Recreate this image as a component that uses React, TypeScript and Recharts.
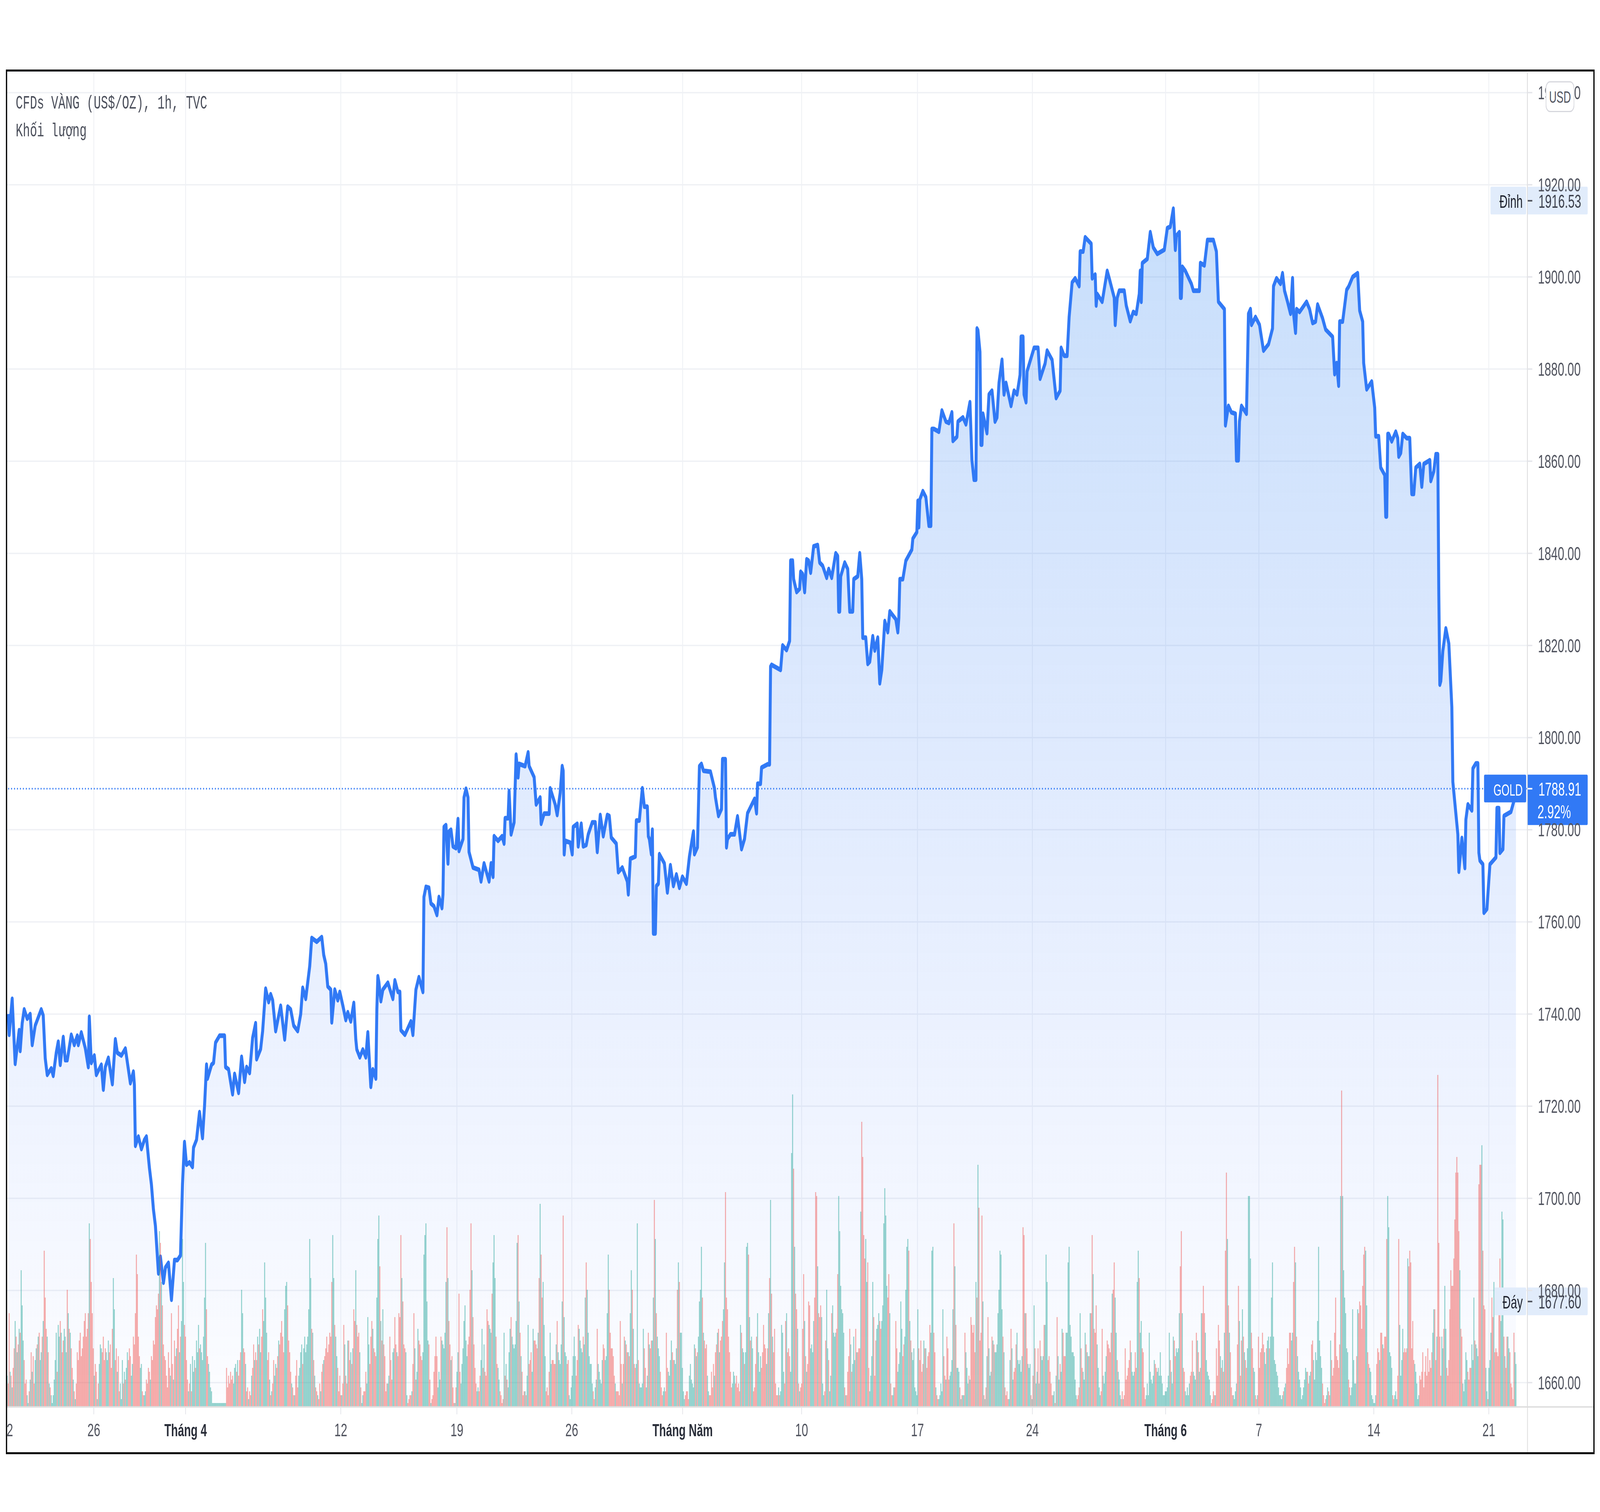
import React from "react";
import {
  ComposedChart, Area, Bar, Cell, XAxis, YAxis, CartesianGrid, ReferenceLine,
} from "recharts";

// Tick positions are bar indexes (one bar per trading hour)
const dateTicks = [-0.5, 86.5, 178.1, 333, 448.9, 563.6, 674.2, 793, 908.6, 1023.3, 1156.3, 1249.4, 1364.1, 1478.9];
const dateLabels = ["22", "26", "Tháng 4", "12", "19", "26", "Tháng Năm", "10", "17", "24", "Tháng 6", "7", "14", "21"];
const monthLabels = ["Tháng 4", "Tháng Năm", "Tháng 6"];
const priceTicks = [1660, 1680, 1700, 1720, 1740, 1760, 1780, 1800, 1820, 1840, 1860, 1880, 1900, 1920, 1940];

const lastPrice = 1788.91;
const lastChange = "2.92%";
const highPrice = 1916.53;
const lowPrice = 1677.6;

// [bar index, close]
const priceA: [number, number][] = [
[1,1740],[2,1735.5],[5,1743.3],[8,1729.2],[12,1736.5],[13,1732],[15,1738],[17,1741],[20,1739],[23,1740],[25,1733.3],[28,1737.5],[34,1741],[36,1739.7],[38,1730.4],[40,1726.8],[44,1728.2],[46,1726.6],[49,1731.6],[51,1734],[53,1729],[56,1735],[58,1730],[60,1730],[64,1735.5],[67,1733.3],[70,1735.3],[71,1733.3],[74,1736],[78,1732.6],[81,1728.5],[82,1739.4],[84,1729.4],[87,1731],[89,1726.8],[94,1729],[96,1723.6],[98,1728.5],[101,1730.5],[105,1724.8],[108,1734.5],[110,1731.6],[114,1731],[118,1732.5],[121,1728],[123,1725],[126,1727.5],[127,1724.6],[128,1711.4],[131,1713.4],[134,1710.7],[137,1712.7],[139,1713.4],[142,1706.6],[144,1703],[146,1697.6],[148,1694],[151,1683.7],[153,1687.3],[156,1681.7],[158,1685],[161,1686],[164,1678],[167,1686.6],[170,1686.6],[173,1687.6],[175,1703],[177,1712.2],[179,1707.3],[182,1707.8],[185,1706.8],[186,1711],[189,1712.7],[192,1718.7],[195,1713.1],[197,1720],[199,1729],[200,1726],[204,1729],[206,1729.4],[208,1733.8],[212,1735.3],[217,1735.3],[218,1728.5],[221,1728],[225,1722.6],[227,1727],[231,1722.9],[234,1730.7],[237,1725.3],[239,1728.5],[242,1727.2],[245,1734.8],[248,1738],[249,1730.2],[253,1732.4],[255,1736.3],[258,1745.5],[261,1742.6],[263,1744.3],[265,1743],[268,1736.3],[273,1741.8],[277,1734.5],[280,1741.6],[283,1741],[286,1737.5],[290,1736.3],[293,1740],[295,1745.7],[298,1743.3],[302,1750.4],[304,1756.5],[309,1755.7],[314,1756.7],[316,1752.8],[318,1750.9],[320,1746],[323,1745.3],[324,1738.2],[327,1745.3],[330,1743],[332,1744.8],
];
const priceB: [number, number][] = [
[335,1741.9],[338,1738.7],[340,1740.4],[343,1738.4],[346,1742.4],[348,1734.5],[349,1732.3],[352,1730.6],[355,1732.3],[358,1730.6],[360,1736],[361,1732],[363,1724.2],[365,1728],[368,1726],[369,1741],[370,1748.2],[371,1747],[373,1742.8],[375,1745.3],[380,1746.8],[385,1743.3],[387,1747.3],[390,1744.8],[392,1744.8],[393,1736.5],[397,1735.5],[403,1738.4],[405,1735.5],[408,1745.3],[411,1748],[415,1744.8],[416,1765.4],[418,1767.6],[421,1767.4],[423,1764],[426,1763.4],[429,1761.5],[431,1765.4],[434,1763],[435,1766],[436,1780.6],[438,1781],[440,1772.7],[441,1779.6],[443,1780],[445,1776.4],[448,1776],[450,1782.3],[451,1775.4],[455,1778],[456,1787],[458,1788.9],[460,1787],[461,1775.2],[465,1771.8],[471,1771.3],[473,1768.8],[476,1772.7],[481,1768.8],[483,1772.7],[485,1769.8],[486,1778.6],[490,1777.6],[494,1778.6],[496,1777],[497,1782.5],[500,1782.5],[501,1788.4],[503,1779],[506,1781.6],[508,1796.3],[510,1791.4],[511,1794.3],[517,1793.8],[520,1796.8],[521,1793.8],[526,1791.4],[528,1785.5],
[532,1787],[533,1781.3],[536,1783.5],[541,1783.5],[542,1789],[547,1785.5],[549,1783.2],[552,1788],[554,1793.8],[555,1792.8],[556,1774.7],[557,1777.6],[562,1777.2],[564,1774.7],[565,1780.6],[569,1781.3],[570,1776.4],[573,1781.3],[575,1776.4],[578,1776.7],[580,1779],[584,1781.6],[587,1781.6],[589,1775.2],[592,1783.2],[595,1778.6],[599,1783.2],[601,1783],[603,1778.3],[608,1777],[610,1770.8],[614,1771.8],[619,1768.8],[620,1766],[622,1773.7],[627,1774.2],[628,1782],[631,1782],[634,1789],[636,1785],[639,1785],[640,1778.6],[641,1778],[643,1774.7],[644,1780],[645,1757.5],[647,1757.5],[648,1767.8],[650,1768.3],[651,1774.7],[656,1772.7],[659,1766.4],[662,1772.3],[665,1767.8],[668,1770.3],[671,1767.4],[674,1769.8],[678,1768.3],[681,1774.2],[685,1779.6],[686,1774.7],[689,1776.2],[691,1793.8],[693,1794.3],[695,1792.8],[702,1792.6],[706,1789],[707,1787],[710,1783],[713,1784.5],[714,1795.3],[717,1795.3],[718,1776.2],[719,1778],[722,1779],
];
const priceC: [number, number][] = [
[726,1779],[729,1782.9],[733,1775.8],[736,1778],[739,1783.6],[746,1786.7],[748,1783.6],[749,1790],[752,1790],[753,1793.5],[759,1794.2],[761,1794.2],[762,1815.4],[763,1815.8],[772,1814.7],[774,1820],[778,1819],[781,1821],[782,1838.4],[784,1838.4],[785,1834.4],[788,1831.6],[791,1832.3],[792,1836],[794,1835.5],[796,1831.6],[798,1838.7],[800,1838.4],[802,1835.8],[805,1841.5],[809,1841.8],[811,1838],[814,1837.3],[818,1834.7],[820,1836.6],[823,1834.7],[827,1840],[829,1839.4],[830,1827.4],[831,1827.4],[832,1835],[836,1838],[839,1836.6],[841,1827.4],[844,1827.4],[845,1834.4],[849,1835],[851,1840],[853,1834.4],[854,1821.7],[857,1821.7],[859,1816],[861,1816.5],[864,1822],[866,1818.9],[869,1821.7],[871,1811.8],[873,1814.7],[876,1825.3],[879,1822.9],[881,1827.4],[887,1825.7],[889,1822.9],[890,1826],[891,1834.4],[894,1834.4],[897,1838.4],[903,1840.8],[904,1843.2],[908,1844.6],[909,1851.4],[910,1845.7],[911,1851.7],[914,1853.5],
[917,1852.2],[920,1846],[922,1846],[923,1867],[925,1867],[930,1866.4],[933,1871],[937,1868.6],[940,1868.3],[943,1870.6],[944,1864.4],[948,1865.3],[949,1868.6],[954,1869.5],[957,1868],[961,1872.8],[963,1860.2],[965,1856],[967,1856],[968,1888.8],[969,1888.4],[971,1883.7],[972,1863.6],[973,1863.6],[974,1870.3],[978,1866.1],[980,1874.5],[983,1875.3],[986,1868.6],[988,1869.5],[990,1877],[993,1882],[995,1874.5],[997,1877],[1002,1872],[1005,1875.3],[1008,1874.5],[1011,1878.7],[1012,1887],[1014,1887],[1015,1874.5],[1017,1872.8],[1018,1879.5],[1025,1884.6],[1029,1884.6],[1031,1877.9],[1036,1881.2],[1038,1884],[1043,1882],[1047,1873.7],[1051,1875.3],[1052,1884.6],[1055,1882.9],[1058,1882.9],[1060,1891.3],[1063,1898.8],[1066,1899.7],[1070,1898],[1071,1905.5],[1074,1905.5],[1076,1908.6],[1082,1907.2],[1083,1899.7],[1086,1900.5],[1087,1893.8],[1088,1896.3],[1093,1894.6],[1098,1901.3],[1100,1899.7],[1105,1895.5],[1106,1889.6],[1108,1895.5],
];
const priceD: [number, number][] = [
[1110,1897],[1115,1897],[1117,1893.8],[1121,1890.4],[1124,1892.4],[1127,1892],[1130,1896.3],[1131,1901.3],[1132,1894.6],[1133,1903],[1138,1903.9],[1141,1909.7],[1144,1906.4],[1148,1905],[1155,1905.9],[1158,1910.6],[1161,1910.9],[1164,1914.8],[1166,1905.9],[1167,1908.9],[1170,1909.7],[1171,1895.5],[1172,1895.5],[1173,1902.2],[1176,1901.3],[1182,1898.5],[1184,1897],[1190,1897],[1191,1903],[1195,1902.5],[1198,1908],[1204,1908],[1207,1905.5],[1209,1894.6],[1215,1893],[1216,1867.8],[1219,1872],[1222,1870.6],[1226,1870.3],[1227,1860.2],[1229,1860.2],[1230,1868.6],[1232,1872],[1237,1870.3],[1239,1892],[1241,1893],[1242,1889.6],[1246,1891.3],[1250,1889.6],[1254,1884],[1259,1885.4],[1263,1888.8],[1264,1898],[1267,1899.7],[1271,1898.5],[1273,1900.8],[1275,1897],[1278,1894.6],[1281,1892],[1283,1899.7],[1284,1892],[1286,1887.9],[1287,1893],[1290,1892.4],[1297,1894.6],[1300,1893],[1303,1890],
[1306,1890.3],[1308,1894],[1313,1891],[1316,1888.6],[1323,1887],[1325,1878.9],[1327,1881.3],[1329,1876.4],[1330,1890.3],[1333,1890.3],[1337,1897.2],[1339,1897.9],[1343,1900],[1348,1900.8],[1350,1892.7],[1353,1890.3],[1354,1881.3],[1357,1875.6],[1362,1877.3],[1365,1871.6],[1366,1865.4],[1369,1865.4],[1371,1858.6],[1375,1857],[1376,1848],[1377,1848],[1378,1865.9],[1379,1865.9],[1382,1864.3],[1386,1866.4],[1388,1865],[1389,1861],[1391,1861.8],[1393,1865.9],[1397,1865],[1400,1865],[1402,1852.9],[1404,1852.9],[1406,1858.6],[1410,1859.4],[1412,1854.5],[1414,1859.4],[1420,1860.2],[1421,1855.7],[1424,1857.8],[1426,1861.5],[1428,1861.5],[1429,1831],[1430,1811.5],[1431,1812.3],[1433,1818.8],[1436,1823.7],[1439,1820.4],[1442,1806.6],[1443,1790.4],[1448,1779],[1449,1770.9],[1452,1778.2],[1455,1771.7],[1456,1782.2],[1458,1785.5],[1462,1784.2],[1463,1793.3],[1466,1794.4],[1468,1794.4],[1469,1775],[1470,1773.3],[1473,1772.5],[1474,1762],[1477,1762.8],[1480,1772.5],[1486,1774],[1487,1784.7],[1489,1784.7],[1490,1775],[1493,1775.8],[1494,1783],[1501,1783.9],[1504,1786.3],[1506,1788.9],
];

// Volume per bar: sign carries direction (positive = up bar, negative = down bar)
const volMarApr = [
8,-6,-24,9,-8,5,-10,-15,22,-18,14,-16,20,-19,35,26,17,-12,-6,-7,3,1,-4,
7,-14,9,-13,-6,12,15,-16,18,-19,12,14,-18,22,-40,-28,-20,18,-14,6,-5,3,1,
3,7,12,19,-9,21,18,-22,19,-14,-17,20,18,14,-30,24,-20,19,-15,-10,7,-4,2,
-6,-14,-12,-17,-19,-13,-15,-18,-22,-24,-18,-20,-24,47,-43,-32,-24,-15,8,-11,-9,2,-6,
11,16,15,-14,-18,-12,-15,14,12,17,-14,-16,-10,-20,33,25,-12,-15,9,-13,-4,6,2,
12,-6,9,-7,10,14,-12,-15,-13,8,11,-18,-16,-24,-39,-34,-18,-13,10,11,-4,-3,3,
4,-7,-6,-10,-9,7,-13,-12,-17,-16,-23,-26,-25,-29,45,-42,32,-26,-16,-13,-12,-8,-5,
-14,-10,8,-24,-11,7,-17,-13,15,-20,-26,14,-18,22,43,32,-21,-18,-12,-7,4,-6,11,
-4,13,9,12,-10,17,14,21,-15,16,14,12,18,28,42,-25,-13,11,9,5,4,1,1,
1,1,1,1,1,1,1,1,1,1,1,1,
];
const volApr = [
-10,-5,-8,-6,-9,-7,-8,6,10,11,-9,12,-8,-12,-14,30,24,-15,-14,11,-4,-5,2,
-4,-3,8,-10,-16,12,-14,-12,18,-16,20,14,-18,-25,22,37,28,19,-12,-14,7,-3,4,
-6,-12,8,11,-10,-13,17,-16,-19,-22,-18,-14,25,31,32,-26,-17,-14,-9,6,-5,-3,3,
-8,-12,-5,8,10,14,16,-11,15,18,14,16,18,25,43,33,-20,19,-12,8,-5,-4,3,
-2,-6,4,-9,-11,12,-13,-15,-18,-14,-16,-19,-18,-32,44,33,-21,18,13,-10,-4,-8,-3,
3,-6,-21,16,-8,-6,17,-17,-12,14,-11,15,-25,-22,35,-21,-18,-19,14,-5,1,3,-4,
-4,-9,6,23,16,-11,-18,-22,20,-15,-14,-13,28,43,49,-36,22,-17,25,-16,-13,-4,-6,
6,8,-18,-12,-7,14,15,-23,-16,14,-13,-24,-23,-44,33,-27,-16,-15,14,3,-1,-2,-3,
-3,4,-11,-24,15,-7,9,20,-17,-16,-13,-12,14,39,44,47,27,17,-16,-7,1,-2,-3,
-9,-13,-18,-13,5,9,7,-18,17,16,15,19,32,-46,33,-22,-16,12,-13,-5,-1,1,-5,
9,14,-29,-9,6,11,15,22,26,17,13,-16,-18,-30,-47,35,-23,-16,-10,-6,4,5,-4,
-8,12,20,-10,16,-9,-8,-25,-22,21,20,19,-29,37,44,33,-18,-11,10,7,-4,-3,-1,
-2,19,-8,11,-7,5,14,20,-23,18,16,15,16,22,42,-44,27,-19,13,-9,-3,-4,4,
-3,8,21,-11,-12,-14,9,20,-17,-17,-16,-15,19,-33,52,-39,-28,32,21,13,-4,-5,-3,
-9,19,11,-12,-12,-11,-11,16,-22,14,12,11,16,27,-49,23,14,13,-11,-12,3,2,5,
8,13,18,13,-8,-12,-21,20,17,15,14,-18,16,28,-37,30,19,13,11,11,6,-4,-2,
];
const volMay = [
5,7,-20,11,9,7,6,12,-16,-15,12,13,24,39,-30,-19,-15,-15,-13,-8,6,-4,-4,
-4,-3,-22,-11,6,-11,-18,17,-16,-14,14,-13,24,35,-30,20,-11,-10,11,47,-12,6,5,
5,6,20,-15,-10,5,8,-19,16,-15,-17,17,28,-53,43,-24,18,15,13,-9,-5,-3,4,
5,-4,-19,-10,9,8,12,17,-14,-12,12,11,15,-30,37,-32,19,19,10,4,2,-3,-4,
-4,-2,8,11,7,6,5,16,-15,13,-14,18,27,30,41,-28,19,-17,-15,-16,8,4,-3,
-3,-9,-5,-11,8,-14,-16,19,-20,14,-17,-18,-22,25,37,-55,-28,-25,-18,-14,-9,-5,6,
9,8,-6,-8,-5,-6,-4,21,-19,15,14,-11,14,41,42,-39,23,-17,18,15,-4,-5,-11,
-18,24,14,9,13,-10,-14,-21,-16,-15,11,-15,24,-33,53,-29,18,-14,-20,-6,-3,-3,5,
-3,4,21,19,9,-6,-22,24,-14,-15,-13,9,65,80,-61,41,-29,-25,20,-6,4,-5,-6,
-20,-34,22,-13,9,-11,-27,-26,15,16,14,22,-28,-55,-54,36,-24,-23,-26,23,6,3,-4,
-17,30,15,-12,4,8,-24,26,19,18,19,-20,-34,54,45,31,25,24,19,-5,3,-3,-9,
-13,-20,16,-9,11,18,12,-20,14,-14,-15,-15,50,-73,-64,-44,-38,43,32,-37,-10,4,8,
13,32,-23,-8,-17,20,21,24,-22,-20,22,26,47,56,49,31,-28,-34,24,-6,-3,3,5,
-5,-22,-15,9,11,14,27,20,-13,-16,18,30,41,43,-40,22,-17,14,12,15,5,4,3,
25,-15,-12,-17,-9,-11,17,-15,15,-10,-13,-14,-21,19,40,41,-19,-14,5,-3,-2,2,3,
6,4,25,-13,-8,7,-18,-15,-7,8,9,12,25,-47,36,-21,10,10,9,-5,2,-3,3,
3,-19,14,10,6,-8,7,-23,-21,-19,-21,-14,32,-28,62,-51,-17,-19,-49,27,-3,2,-5,
13,-23,15,8,9,-18,17,-16,14,14,16,24,30,40,39,25,-18,14,-5,-3,-4,-2,2,
12,-20,15,7,-9,-10,-16,19,12,11,12,9,13,-46,-44,24,-24,-15,11,10,11,-3,2,
-8,26,-15,6,9,-15,6,-17,13,12,13,-21,21,39,32,-12,-13,-9,-6,-3,3,4,-1,
];
const volJun = [
8,-23,13,7,-11,9,20,-19,-13,-13,19,19,37,41,21,18,14,14,13,7,3,-2,-3,
-5,24,-15,-10,9,7,19,-16,14,13,-13,24,-24,-44,34,-20,-19,-26,16,10,5,3,-4,
-20,8,6,9,13,-17,-16,-15,-14,-19,29,-30,-37,28,19,-12,9,7,3,-2,-4,2,-3,
-15,-7,-8,-10,-12,-17,14,9,8,9,-14,-10,32,40,-33,19,22,-15,-14,-5,-2,3,6,
3,19,9,7,6,8,12,-11,-10,9,10,8,14,8,6,3,3,4,4,5,8,19,-12,
9,6,18,-17,-13,15,14,15,24,-36,-45,24,-10,-9,4,3,5,3,6,-8,-9,-17,9,
8,7,-19,17,-14,9,-10,24,-24,-31,-24,19,12,9,8,7,3,-1,-2,-4,-3,3,-15,
-8,-21,-17,13,-10,12,-9,19,-40,-60,43,-26,19,-14,-5,-3,3,2,4,6,-16,-31,22,
-8,-17,25,-18,14,-12,-10,15,54,54,38,-19,-15,10,9,-3,-2,3,-18,-10,-14,-15,-19,
-16,14,11,-15,17,18,-15,18,28,37,18,12,11,9,8,5,3,3,2,3,-4,5,6,
-10,-15,-11,-19,-19,17,19,-32,-41,37,-18,13,9,7,5,2,3,5,7,10,9,-9,-6,
8,9,-16,-17,12,7,14,12,22,41,17,13,10,-6,-3,-1,-2,3,5,-4,-3,17,-12,
-8,-10,-19,-28,-13,-12,-10,-16,54,-81,54,35,28,24,15,14,-7,-5,3,5,25,12,6,
6,-13,25,-24,-27,-26,-20,-31,-39,-41,40,26,-14,-11,10,9,3,2,1,1,3,-11,-15,
-14,12,-19,-19,16,-15,-18,-18,-43,54,46,14,13,10,-3,-2,3,4,2,-8,-43,21,8,
12,20,-14,-15,-14,-15,38,-36,-40,-37,-15,-22,-12,11,9,6,2,3,-8,-7,-9,-14,-5,
-9,-13,-8,-15,-9,-12,-10,-14,19,25,-25,-12,18,-85,-42,-18,-8,18,15,-20,31,20,-10,
-8,-12,-25,-35,-31,-31,-38,-48,-60,-64,-60,-45,35,-20,-18,6,4,7,14,12,-9,-7,-10,
-10,16,12,28,-17,16,15,13,-57,-62,-62,67,-40,-26,-25,10,4,-2,10,12,19,-28,-23,
32,-14,-15,-14,-13,-25,-38,22,50,48,-18,13,-10,-18,18,15,-14,-6,-5,-2,-19,14,11,
];

const BLUE = "#3179f5";
const UP = "rgba(38,166,154,0.5)";
const DOWN = "rgba(239,83,80,0.5)";
const AXIS_TEXT = "#50535e";
const FONT = "'Liberation Sans', Arial, sans-serif";

const priceByBar = new Map<number, number>([...priceA, ...priceB, ...priceC, ...priceD]);
const volumes = [...volMarApr, ...volApr, ...volMay, ...volJun];
const rows = volumes.map((v, i) => ({
  i,
  vol: Math.abs(v),
  up: v > 0,
  price: priceByBar.has(i) ? priceByBar.get(i) : null,
}));

const WIDTH = 6500;
const HEIGHT = 3871;
// The browser window is never wider than 4096 px, so the 6500-wide drawing is fitted to it.
const FIT_X = 4096 / WIDTH;

function DateTick(props: any) {
  const { x, y, payload, index } = props;
  const text = dateLabels[index] ?? "";
  const bold = monthLabels.includes(text);
  return (
    <text x={x} y={y + 54} textAnchor="middle" fontFamily={FONT} fontSize={bold ? 45 : 47}
      fontWeight={bold ? 700 : 400} fill={bold ? "#2a2e39" : AXIS_TEXT} data-v={payload.value}>
      {text}
    </text>
  );
}

function Badge(props: any) {
  const { viewBox, name, value, dark, sub, nameLeft } = props;
  const cy = viewBox.y;
  const bg = dark ? BLUE : "#e1ecfb";
  const ink = dark ? "#ffffff" : "#3c404c";
  return (
    <g>
      <rect x={nameLeft} y={cy - 36} width={6200 - nameLeft} height={71} fill={bg} rx={4} />
      <rect x={6204} y={cy - 36} width={246} height={sub ? 129 : 71} fill={bg} rx={4} />
      <rect x={6205} y={cy - 2} width={20} height={4} fill={dark ? "#ffffff" : "#50535e"} />
      <text x={6186} y={cy + 18} textAnchor="end" fontFamily={FONT} fontSize={name === "GOLD" ? 42 : 46} fill={dark ? "#fff" : "#1e222d"}>{name}</text>
      <text x={6250} y={cy + 18} fontFamily={FONT} fontSize={48} fill={ink}>{value}</text>
      {sub ? <text x={6246} y={cy + 76} fontFamily={FONT} fontSize={48} fill={ink}>{sub}</text> : null}
    </g>
  );
}

export default function App() {
  return (
    <div style={{ position: "relative", width: 4096, height: HEIGHT, background: "#fff", overflow: "hidden" }}>
      <style>{"html,body{margin:0;padding:0;background:#fff}"}</style>
      <div style={{ position: "absolute", left: 0, top: 0, width: WIDTH, height: HEIGHT, transform: `scale(${FIT_X}, 1)`, transformOrigin: "0 0" }}>
        <ComposedChart
          width={WIDTH}
          height={HEIGHT}
          data={rows}
          margin={{ top: 185, right: 0, bottom: 0, left: 25 }}
          barGap={0}
        >
          <defs>
            <linearGradient id="goldFill" x1="0" y1="0" x2="0" y2="1">
              <stop offset="0%" stopColor="rgb(41,130,240)" stopOpacity={0.26} />
              <stop offset="100%" stopColor="rgb(41,98,255)" stopOpacity={0.015} />
            </linearGradient>
          </defs>
          <CartesianGrid yAxisId="price" stroke="#eff1f5" strokeWidth={3.5} />
          <XAxis
            dataKey="i"
            type="number"
            domain={[-1, 1517.4]}
            ticks={dateTicks}
            interval={0}
            allowDataOverflow
            height={269}
            tick={<DateTick />}
            tickLine={{ stroke: "#e4e5ea", strokeWidth: 3 }}
            tickSize={19}
            axisLine={{ stroke: "#e0e0e0", strokeWidth: 4 }}
          />
          <YAxis
            yAxisId="price"
            orientation="right"
            type="number"
            domain={[1654.72, 1944.42]}
            ticks={priceTicks}
            interval={0}
            allowDataOverflow
            width={295}
            tickFormatter={(v: number) => v.toFixed(2)}
            tick={{ fontFamily: FONT, fontSize: 48, fill: AXIS_TEXT }}
            tickSize={20}
            tickMargin={23}
            tickLine={{ stroke: "#e4e5ea", strokeWidth: 3.5 }}
            axisLine={{ stroke: "#dcdcdc", strokeWidth: 3 }}
          />
          <YAxis yAxisId="vol" hide width={0} type="number" domain={[0, 341.7]} allowDataOverflow />
          <Bar yAxisId="vol" dataKey="vol" barSize={4} isAnimationActive={false}>
            {rows.map((r) => (
              <Cell key={r.i} fill={r.up ? UP : DOWN} />
            ))}
          </Bar>
          <Area
            yAxisId="price"
            dataKey="price"
            type="linear"
            connectNulls
            stroke={BLUE}
            strokeWidth={12}
            strokeLinejoin="round"
            fill="url(#goldFill)"
            fillOpacity={1}
            dot={false}
            activeDot={false}
            isAnimationActive={false}
          />
          <ReferenceLine yAxisId="price" y={lastPrice} stroke={BLUE} strokeWidth={4} strokeDasharray="4 8"
            label={(p: any) => <Badge {...p} name="GOLD" value={lastPrice.toFixed(2)} sub={lastChange} dark nameLeft={6029} />} />
          <ReferenceLine yAxisId="price" y={highPrice} stroke="none"
            label={(p: any) => <Badge {...p} name="Đỉnh" value={highPrice.toFixed(2)} nameLeft={6055} />} />
          <ReferenceLine yAxisId="price" y={lowPrice} stroke="none"
            label={(p: any) => <Badge {...p} name="Đáy" value={lowPrice.toFixed(2)} nameLeft={6071} />} />
        </ComposedChart>

        {/* frame pieces and chart furniture */}
        <div style={{ position: "absolute", left: 0, top: 0, width: 24, height: HEIGHT, background: "#fff" }} />
        <div style={{ position: "absolute", left: 6205, top: 3600, width: 268, height: 4, background: "#e0e0e0" }} />
        <div style={{ position: "absolute", left: 6204, top: 3602, width: 3, height: 116, background: "#dcdcdc" }} />
        <div style={{ position: "absolute", left: 24, top: 178, width: 6444, height: 3535, border: "5px solid #000", pointerEvents: "none" }} />
        <div style={{ position: "absolute", left: 64, top: 241, fontFamily: "'Liberation Mono', monospace", fontSize: 48, lineHeight: "48px", color: "#4a4e5a", whiteSpace: "pre" }}>CFDs VÀNG (US$/OZ), 1h, TVC</div>
        <div style={{ position: "absolute", left: 64, top: 312, fontFamily: "'Liberation Mono', monospace", fontSize: 48, lineHeight: "48px", color: "#4a4e5a", whiteSpace: "pre" }}>Khối lượng</div>
        <div style={{ position: "absolute", left: 6279, top: 208, width: 111, height: 73, border: "3px solid #d6d7dd", borderRadius: 18, background: "#fff", textAlign: "center", fontFamily: FONT, fontSize: 42, lineHeight: "76px", color: "#50535e" }}>USD</div>
      </div>
    </div>
  );
}
